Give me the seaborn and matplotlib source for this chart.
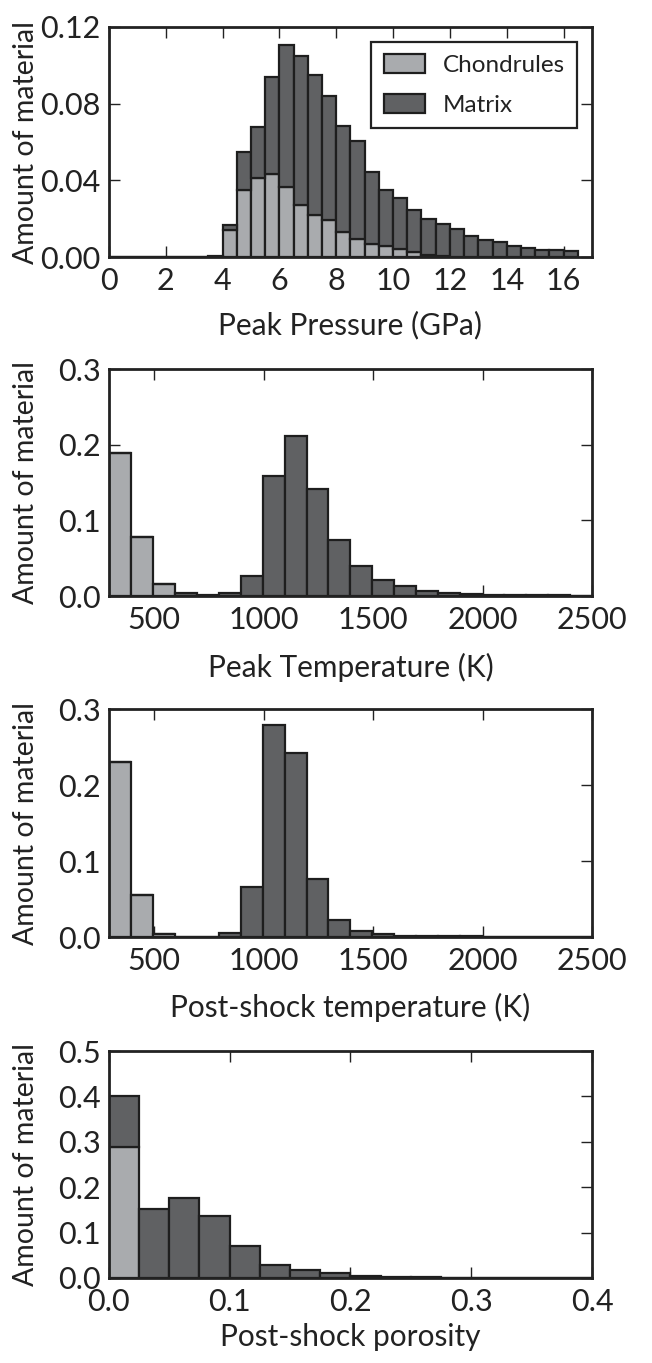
import numpy as np
import pandas as pd
import seaborn as sns
import matplotlib.pyplot as plt
from matplotlib.patches import Patch

# ---- data (fraction of material per bin) ----
# peak pressure, bins of 0.5 GPa from 0 to 16.5
pressure_edges = np.arange(0, 16.51, 0.5)
pressure_chondrules = [0, 0, 0, 0, 0, 0, 0, 0.0,
                       0.0143, 0.0349, 0.0413, 0.0431, 0.0366, 0.0270, 0.0218, 0.0192,
                       0.0131, 0.0096, 0.0066, 0.0056, 0.0044, 0.0026, 0.0010, 0.0005,
                       0.0002, 0, 0, 0, 0, 0, 0, 0, 0]
pressure_matrix = [0, 0, 0, 0, 0, 0, 0, 0.0008,
                   0.0026, 0.0197, 0.0267, 0.0506, 0.0738, 0.0780, 0.0733, 0.0650,
                   0.0553, 0.0509, 0.0377, 0.0296, 0.0266, 0.0218, 0.0187, 0.0166,
                   0.0146, 0.0112, 0.0091, 0.0077, 0.0059, 0.0045, 0.0038, 0.0035, 0.0031]

# peak temperature (K), 22 bins from 293 to 2500
peak_t_edges = np.linspace(293, 2500, 23)
peak_t_chondrules = [0.189, 0.078, 0.0163, 0, 0, 0, 0, 0, 0, 0, 0,
                     0, 0, 0, 0, 0, 0, 0, 0, 0, 0, 0]
peak_t_matrix = [0, 0, 0, 0.0035, 0.0012, 0.0040, 0.027, 0.159, 0.212, 0.142, 0.0746,
                 0.0397, 0.0207, 0.0128, 0.0066, 0.0040, 0.0026, 0.0018, 0.0013, 0.0010, 0.0009, 0.0006]

# post-shock temperature (K)
post_t_edges = np.linspace(293, 2500, 23)
post_t_chondrules = [0.2306, 0.0549, 0.0035, 0.0005, 0, 0, 0, 0, 0, 0, 0,
                     0, 0, 0, 0, 0, 0, 0, 0, 0, 0, 0]
post_t_matrix = [0, 0, 0, 0, 0.0005, 0.0053, 0.0659, 0.279, 0.2416, 0.0769, 0.022,
                 0.0079, 0.0040, 0.0018, 0.0013, 0.0010, 0.0008, 0.0006, 0.0005, 0.0004, 0.0003, 0.0003]

# post-shock porosity, bins of 0.025
porosity_edges = np.arange(0, 0.401, 0.025)
porosity_chondrules = [0.2875, 0, 0, 0, 0, 0, 0, 0, 0, 0, 0, 0, 0, 0, 0, 0]
porosity_matrix = [0.1132, 0.153, 0.177, 0.136, 0.0706, 0.0294, 0.0169, 0.0103,
                   0.0050, 0.0030, 0.0015, 0.0008, 0.0004, 0.0002, 0.0001, 0.0001]

components = ["Chondrules", "Matrix"]
colors = {"Chondrules": "#a9abae", "Matrix": "#606163"}


def make_frame(edges, chond, matrix):
    centers = (edges[:-1] + edges[1:]) / 2
    a = pd.DataFrame({"x": centers, "w": chond, "part": "Chondrules"})
    b = pd.DataFrame({"x": centers, "w": matrix, "part": "Matrix"})
    return pd.concat([a, b], ignore_index=True)


sns.set_style("ticks")
plt.rcParams["font.family"] = ["Lato", "DejaVu Sans"]
plt.rcParams.update({
    "xtick.direction": "in", "ytick.direction": "in",
    "xtick.top": True, "ytick.right": True,
    "xtick.major.size": 8, "ytick.major.size": 8,
    "xtick.major.width": 1.0, "ytick.major.width": 1.0,
    "xtick.major.pad": 7, "ytick.major.pad": 6,
    "axes.linewidth": 2.0, "axes.edgecolor": "#222222",
    "text.color": "#222222", "xtick.color": "#222222", "ytick.color": "#222222",
    "axes.labelcolor": "#222222",
})

fig = plt.figure(figsize=(6.52, 13.63), dpi=100)
boxes = [
    [0.167, 0.8114, 0.741, 0.1688],
    [0.167, 0.5627, 0.741, 0.1665],
    [0.167, 0.3125, 0.741, 0.1673],
    [0.167, 0.0624, 0.741, 0.1665],
]
xlabel_y = [-0.235, -0.25, -0.245, -0.20]
panels = [
    (pressure_edges, pressure_chondrules, pressure_matrix, "Peak Pressure (GPa)",
     (0, 17), np.arange(0, 17, 2), None, (0, 0.12), [0, 0.04, 0.08, 0.12], "%.2f"),
    (peak_t_edges, peak_t_chondrules, peak_t_matrix, "Peak Temperature (K)",
     (293, 2500), [500, 1000, 1500, 2000, 2500], None, (0, 0.3), [0, 0.1, 0.2, 0.3], "%.1f"),
    (post_t_edges, post_t_chondrules, post_t_matrix, "Post-shock temperature (K)",
     (293, 2500), [500, 1000, 1500, 2000, 2500], None, (0, 0.3), [0, 0.1, 0.2, 0.3], "%.1f"),
    (porosity_edges, porosity_chondrules, porosity_matrix, "Post-shock porosity",
     (0, 0.4), [0, 0.1, 0.2, 0.3, 0.4], "%.1f", (0, 0.5), [0, 0.1, 0.2, 0.3, 0.4, 0.5], "%.1f"),
]

for i, (box, (edges, chond, matrix, xlabel, xlim, xticks, xfmt, ylim, yticks, yfmt)) in enumerate(zip(boxes, panels)):
    ax = fig.add_axes(box)
    df = make_frame(edges, chond, matrix)
    sns.histplot(data=df, x="x", weights="w", hue="part", hue_order=components[::-1],
                 bins=list(edges), multiple="stack", palette=colors, alpha=1,
                 edgecolor="#1e1e1e", linewidth=1.6, legend=False, ax=ax)
    ax.set_xlim(*xlim)
    ax.set_ylim(*ylim)
    ax.set_xticks(xticks)
    ax.set_yticks(yticks)
    if xfmt:
        ax.set_xticklabels([xfmt % t for t in xticks])
    ax.set_yticklabels([yfmt % t for t in yticks])
    ax.tick_params(labelsize=22)
    ax.set_xlabel(xlabel, fontsize=21.5)
    ax.set_ylabel("Amount of material", fontsize=20.5)
    ax.xaxis.set_label_coords(0.5, xlabel_y[i])
    ax.yaxis.set_label_coords(-0.145, 0.5)
    for s in ax.spines.values():
        s.set_visible(True)
    if i == 0:
        handles = [Patch(facecolor=colors[c], edgecolor="#1e1e1e", linewidth=1.6) for c in components]
        leg = ax.legend(handles, components, loc="upper right", fontsize=17.5,
                        frameon=True, fancybox=False, handlelength=1.7, handleheight=0.85,
                        handletextpad=0.75, borderpad=0.5, labelspacing=0.75, borderaxespad=0.6)
        leg.get_frame().set_edgecolor("#222222")
        leg.get_frame().set_linewidth(1.6)
        leg.get_frame().set_alpha(1)

fig.savefig("out.png", dpi=100)
